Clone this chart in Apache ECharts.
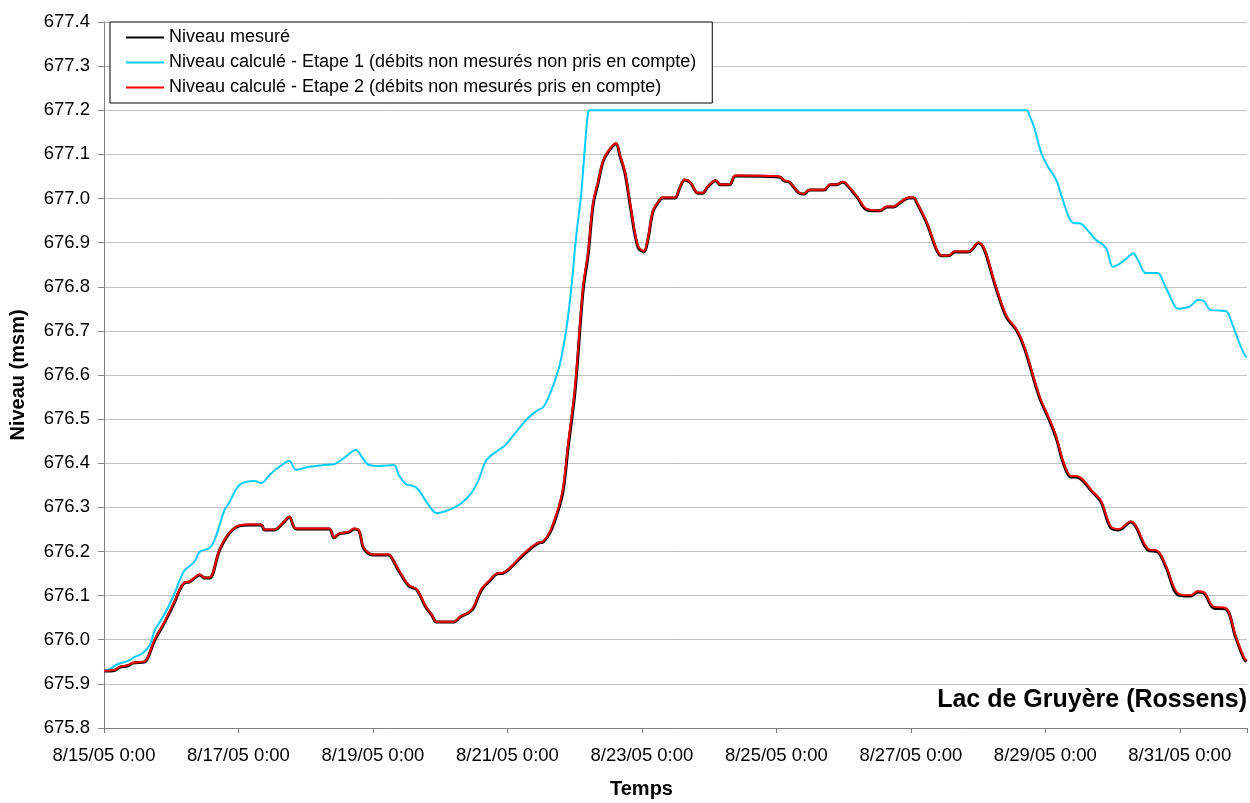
<!DOCTYPE html>
<html>
<head>
<meta charset="utf-8">
<script src="https://cdn.jsdelivr.net/npm/echarts@6/dist/echarts.min.js"></script>
<style>
html,body{margin:0;padding:0;background:#fff;}
#chart{width:1250px;height:803px;}
</style>
</head>
<body>
<div id="chart"></div>
<script>
// Days since 8/15/05 0:00
const tickLabels = ['8/15/05 0:00','8/17/05 0:00','8/19/05 0:00','8/21/05 0:00','8/23/05 0:00','8/25/05 0:00','8/27/05 0:00','8/29/05 0:00','8/31/05 0:00'];
const seriesNames = ['Niveau mesuré','Niveau calculé - Etape 1 (débits non mesurés non pris en compte)','Niveau calculé - Etape 2 (débits non mesurés pris en compte)'];

const measDays = [0,0.163,0.237,0.356,0.430,0.607,0.652,0.756,0.904,1.052,1.126,1.200,1.274,1.348,1.422,1.496,1.570,1.719,1.867,2.015,2.163,2.341,2.385,2.533,2.681,2.756,2.859,3.348,3.422,3.496,3.644,3.719,3.793,3.867,4.015,4.237,4.281,4.385,4.533,4.652,4.785,4.874,4.948,5.200,5.304,5.422,5.496,5.615,5.748,5.837,5.941,6.059,6.207,6.356,6.459,6.533,6.637,6.756,6.830,6.904,7.007,7.126,7.200,7.274,7.348,7.422,7.496,7.615,7.674,7.748,7.837,7.941,8.030,8.089,8.163,8.237,8.311,8.489,8.563,8.637,8.726,8.830,8.904,8.978,9.096,9.170,9.304,9.393,10.044,10.119,10.193,10.341,10.415,10.489,10.711,10.800,10.904,10.978,11.022,11.200,11.348,11.541,11.644,11.748,11.837,11.970,12.044,12.089,12.237,12.385,12.459,12.563,12.652,12.859,13.007,13.096,13.244,13.422,13.570,13.689,13.911,14.059,14.163,14.267,14.385,14.459,14.711,14.830,14.978,15.096,15.274,15.348,15.526,15.674,15.793,15.985,16.163,16.267,16.356,16.504,16.681,16.830,16.948,16.99];
const measuredLevel = [675.929,675.931,675.938,675.941,675.947,675.950,675.959,675.999,676.040,676.086,676.113,676.129,676.131,676.140,676.147,676.140,676.140,676.203,676.242,676.258,676.260,676.260,676.249,676.249,676.267,676.278,676.251,676.251,676.231,676.240,676.244,676.251,676.246,676.206,676.192,676.192,676.185,676.156,676.122,676.113,676.074,676.056,676.040,676.040,676.052,676.061,676.072,676.113,676.135,676.149,676.151,676.165,676.188,676.208,676.219,676.222,676.244,676.294,676.339,676.437,676.566,676.793,676.872,676.985,677.035,677.083,677.105,677.124,677.096,677.058,676.974,676.890,676.879,676.906,676.969,676.990,677.001,677.001,677.024,677.042,677.035,677.012,677.012,677.026,677.040,677.031,677.031,677.051,677.049,677.040,677.037,677.012,677.010,677.019,677.019,677.031,677.031,677.037,677.035,677.003,676.974,676.972,676.981,676.981,676.990,677.001,677.001,676.990,676.944,676.883,676.870,676.870,676.879,676.879,676.899,676.883,676.808,676.731,676.702,676.661,676.550,676.498,676.457,676.401,676.369,676.369,676.333,676.312,676.253,676.249,676.267,676.256,676.203,676.199,676.165,676.101,676.099,676.108,676.106,676.072,676.070,676.006,675.959,675.950];
const calc2Level = [675.930,675.932,675.939,675.942,675.948,675.951,675.960,676.001,676.042,676.088,676.114,676.130,676.132,676.141,676.148,676.141,676.141,676.205,676.243,676.259,676.261,676.261,676.250,676.250,676.268,676.279,676.252,676.252,676.232,676.241,676.245,676.252,676.247,676.208,676.193,676.193,676.186,676.158,676.124,676.114,676.076,676.057,676.041,676.041,676.053,676.062,676.074,676.115,676.137,676.150,676.152,676.166,676.190,676.210,676.220,676.223,676.246,676.298,676.345,676.445,676.575,676.800,676.878,676.990,677.038,677.085,677.107,677.125,677.098,677.061,676.978,676.893,676.881,676.909,676.971,676.991,677.002,677.002,677.025,677.043,677.036,677.013,677.013,677.027,677.041,677.032,677.032,677.052,677.050,677.041,677.038,677.013,677.011,677.020,677.020,677.032,677.032,677.038,677.036,677.005,676.976,676.973,676.982,676.982,676.991,677.002,677.002,676.992,676.946,676.885,676.871,676.871,676.880,676.880,676.900,676.885,676.811,676.734,676.704,676.664,676.553,676.501,676.460,676.404,676.371,676.371,676.335,676.314,676.256,676.251,676.268,676.258,676.206,676.201,676.168,676.104,676.101,676.110,676.108,676.075,676.072,676.009,675.962,675.953];

const calc1Days = [0,0.089,0.207,0.356,0.459,0.578,0.681,0.756,0.830,0.948,1.052,1.126,1.200,1.274,1.348,1.422,1.570,1.644,1.719,1.793,1.867,1.941,2.015,2.119,2.237,2.341,2.459,2.607,2.756,2.859,3.052,3.274,3.422,3.570,3.748,3.837,3.941,4.089,4.311,4.385,4.489,4.607,4.681,4.830,4.948,5.052,5.200,5.319,5.467,5.570,5.689,5.867,5.970,6.119,6.311,6.459,6.533,6.637,6.711,6.785,6.874,6.948,7.022,7.096,7.141,7.200,7.230,13.719,13.763,13.837,13.941,14.044,14.163,14.252,14.356,14.430,14.504,14.652,14.756,14.859,14.919,15.007,15.126,15.230,15.304,15.393,15.496,15.674,15.763,15.881,15.970,16.133,16.207,16.267,16.356,16.459,16.681,16.770,16.830,16.948,16.99];
const calc1Level = [675.929,675.934,675.945,675.952,675.961,675.970,675.988,676.022,676.040,676.072,676.106,676.135,676.158,676.167,676.178,676.199,676.208,676.226,676.260,676.294,676.312,676.335,676.351,676.358,676.360,676.355,676.373,676.392,676.405,676.385,676.392,676.396,676.398,676.412,676.430,676.414,676.396,676.394,676.396,676.373,676.353,676.348,676.339,676.305,676.287,676.290,676.299,676.310,676.333,676.362,676.407,676.430,676.441,676.469,676.503,676.521,676.527,676.559,676.589,676.627,676.702,676.793,676.913,677.008,677.094,677.196,677.200,677.200,677.189,677.160,677.103,677.071,677.042,677.001,676.956,676.944,676.944,676.924,676.906,676.895,676.883,676.845,676.854,676.867,676.876,676.856,676.831,676.831,676.808,676.770,676.750,676.754,676.763,676.770,676.768,676.747,676.745,676.720,676.695,676.650,676.640];

const FONT = '"Liberation Sans", Arial, sans-serif';
function zip(xs, ys){ return xs.map((x,i)=>[x, ys[i]]); }

const chart = echarts.init(document.getElementById('chart'), null, {renderer:'canvas'});
chart.setOption({
  animation: false,
  backgroundColor: '#ffffff',
  textStyle: {fontFamily: FONT},
  title: {
    text: 'Lac de Gruyère (Rossens)',
    right: 3, top: 688,
    padding: 0,
    textStyle: {fontFamily: FONT, fontSize: 25, fontWeight: 'bold', color: '#000'}
  },
  grid: {left: 104, top: 22, width: 1146, height: 706, containLabel: false},
  legend: {
    orient: 'vertical',
    left: 110, top: 22,
    padding: [6, 16, 6, 16],
    itemGap: 6,
    itemWidth: 38, itemHeight: 2,
    icon: 'rect',
    backgroundColor: '#fff',
    borderColor: '#000', borderWidth: 1,
    textStyle: {fontFamily: FONT, fontSize: 18, color: '#000', lineHeight: 19},
    data: [seriesNames[0], seriesNames[1], seriesNames[2]],
    z: 10
  },
  xAxis: {
    type: 'value', min: 0, max: 17, interval: 2,
    axisLine: {lineStyle: {color: '#808080', width: 1}},
    axisTick: {show: true, length: 5, lineStyle: {color: '#808080'}},
    splitLine: {show: false},
    axisLabel: {
      fontFamily: FONT, fontSize: 18.5, color: '#000', margin: 18,
      formatter: function(v){ const i = Math.round(v/2); return (v % 2 === 0 && i < tickLabels.length) ? tickLabels[i] : ''; }
    }
  },
  yAxis: {
    type: 'value', min: 675.8, max: 677.4, interval: 0.1,
    name: 'Niveau (msm)', nameLocation: 'middle', nameGap: 76,
    nameTextStyle: {fontFamily: FONT, fontSize: 20, fontWeight: 'bold', color: '#000'},
    axisLine: {show: true, lineStyle: {color: '#808080', width: 1}},
    axisTick: {show: true, length: 6, lineStyle: {color: '#808080'}},
    splitLine: {show: true, lineStyle: {color: '#c0c0c0', width: 1}},
    axisLabel: {fontFamily: FONT, fontSize: 18.5, color: '#000', margin: 14,
      formatter: function(v){ return v.toFixed(1); }}
  },
  graphic: [{
    type: 'text', left: 610, top: 779,
    style: {text: 'Temps', font: 'bold 20px ' + FONT, fill: '#000'}
  }],
  series: [
    {name: seriesNames[0], type: 'line', data: zip(measDays, measuredLevel), showSymbol: false,
     smooth: 0.35, lineStyle: {color: '#000', width: 3}, itemStyle: {color: '#000'}, z: 2},
    {name: seriesNames[1], type: 'line', data: zip(calc1Days, calc1Level), showSymbol: false,
     smooth: 0.35, lineStyle: {color: '#00ccff', width: 2}, itemStyle: {color: '#00ccff'}, z: 3},
    {name: seriesNames[2], type: 'line', data: zip(measDays, calc2Level), showSymbol: false,
     smooth: 0.35, lineStyle: {color: '#ff0000', width: 2}, itemStyle: {color: '#ff0000'}, z: 4}
  ]
});
</script>
</body>
</html>
